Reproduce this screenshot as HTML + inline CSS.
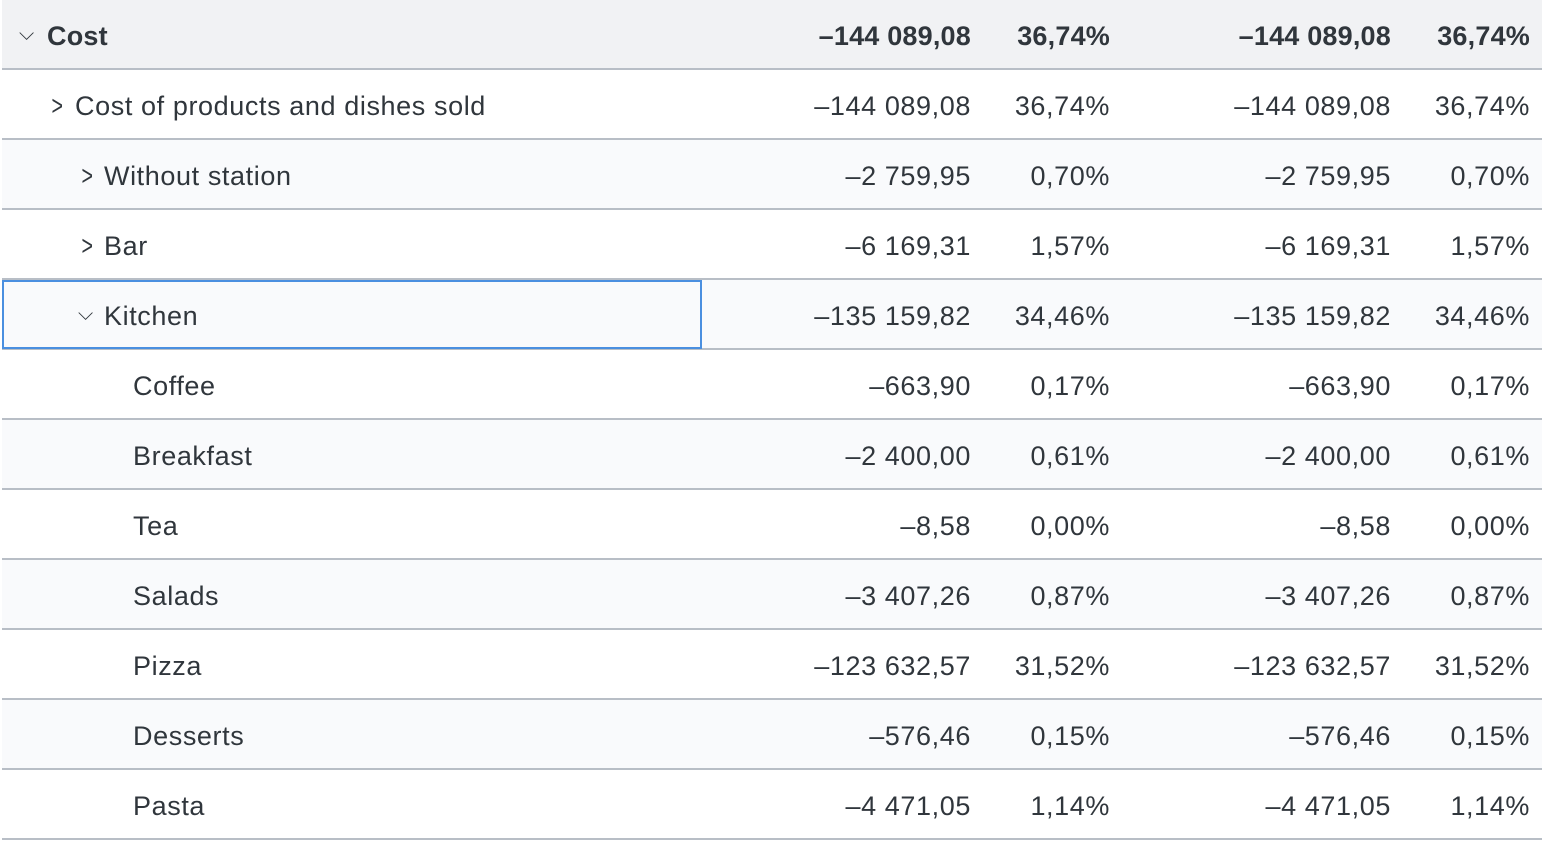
<!DOCTYPE html>
<html><head><style>
body{margin:0;width:1544px;height:840px;background:#fff;font-family:"Liberation Sans",Arial,sans-serif;color:#30363c;overflow:hidden;position:relative}
.r{position:absolute;left:2px;width:1540px;height:68px;border-bottom:2px solid #b8bec6}
.t{position:absolute;top:1px;line-height:70px;font-size:27px;letter-spacing:0.6px;white-space:nowrap}
.n{text-align:right}
.c1{right:571px}.c2{right:432px}.c3{right:151px}.c4{right:12px}
.b{font-weight:bold;letter-spacing:0.2px}
.ch{position:absolute;font-size:20px;top:0;line-height:68px}
.gt{position:absolute;top:1px;line-height:70px;font-size:28px;transform:scaleX(0.7)}
</style></head><body>
<div class="r" style="top:0;background:#f1f2f4">
<span class="ch" style="left:17px">⌵</span><span class="t b" style="left:45px">Cost</span>
<span class="t n b c1">–144 089,08</span><span class="t n b c2">36,74%</span><span class="t n b c3">–144 089,08</span><span class="t n b c4">36,74%</span></div>
<div class="r" style="top:70px;background:#fff">
<span class="gt" style="left:47px">&gt;</span><span class="t" style="left:73px">Cost of products and dishes sold</span>
<span class="t n c1">–144 089,08</span><span class="t n c2">36,74%</span><span class="t n c3">–144 089,08</span><span class="t n c4">36,74%</span></div>
<div class="r" style="top:140px;background:#f9fafc">
<span class="gt" style="left:77px">&gt;</span><span class="t" style="left:102px">Without station</span>
<span class="t n c1">–2 759,95</span><span class="t n c2">0,70%</span><span class="t n c3">–2 759,95</span><span class="t n c4">0,70%</span></div>
<div class="r" style="top:210px;background:#fff">
<span class="gt" style="left:77px">&gt;</span><span class="t" style="left:102px">Bar</span>
<span class="t n c1">–6 169,31</span><span class="t n c2">1,57%</span><span class="t n c3">–6 169,31</span><span class="t n c4">1,57%</span></div>
<div class="r" style="top:280px;background:#f9fafc">
<span class="ch" style="left:76px">⌵</span><span class="t" style="left:102px">Kitchen</span>
<span class="t n c1">–135 159,82</span><span class="t n c2">34,46%</span><span class="t n c3">–135 159,82</span><span class="t n c4">34,46%</span></div>
<div style="position:absolute;left:2px;top:280px;width:696px;height:65px;border:2px solid #4a8fe0"></div>
<div class="r" style="top:350px;background:#fff"><span class="t" style="left:131px">Coffee</span>
<span class="t n c1">–663,90</span><span class="t n c2">0,17%</span><span class="t n c3">–663,90</span><span class="t n c4">0,17%</span></div>
<div class="r" style="top:420px;background:#f9fafc"><span class="t" style="left:131px">Breakfast</span>
<span class="t n c1">–2 400,00</span><span class="t n c2">0,61%</span><span class="t n c3">–2 400,00</span><span class="t n c4">0,61%</span></div>
<div class="r" style="top:490px;background:#fff"><span class="t" style="left:131px">Tea</span>
<span class="t n c1">–8,58</span><span class="t n c2">0,00%</span><span class="t n c3">–8,58</span><span class="t n c4">0,00%</span></div>
<div class="r" style="top:560px;background:#f9fafc"><span class="t" style="left:131px">Salads</span>
<span class="t n c1">–3 407,26</span><span class="t n c2">0,87%</span><span class="t n c3">–3 407,26</span><span class="t n c4">0,87%</span></div>
<div class="r" style="top:630px;background:#fff"><span class="t" style="left:131px">Pizza</span>
<span class="t n c1">–123 632,57</span><span class="t n c2">31,52%</span><span class="t n c3">–123 632,57</span><span class="t n c4">31,52%</span></div>
<div class="r" style="top:700px;background:#f9fafc"><span class="t" style="left:131px">Desserts</span>
<span class="t n c1">–576,46</span><span class="t n c2">0,15%</span><span class="t n c3">–576,46</span><span class="t n c4">0,15%</span></div>
<div class="r" style="top:770px;background:#fff"><span class="t" style="left:131px">Pasta</span>
<span class="t n c1">–4 471,05</span><span class="t n c2">1,14%</span><span class="t n c3">–4 471,05</span><span class="t n c4">1,14%</span></div>
</body></html>
